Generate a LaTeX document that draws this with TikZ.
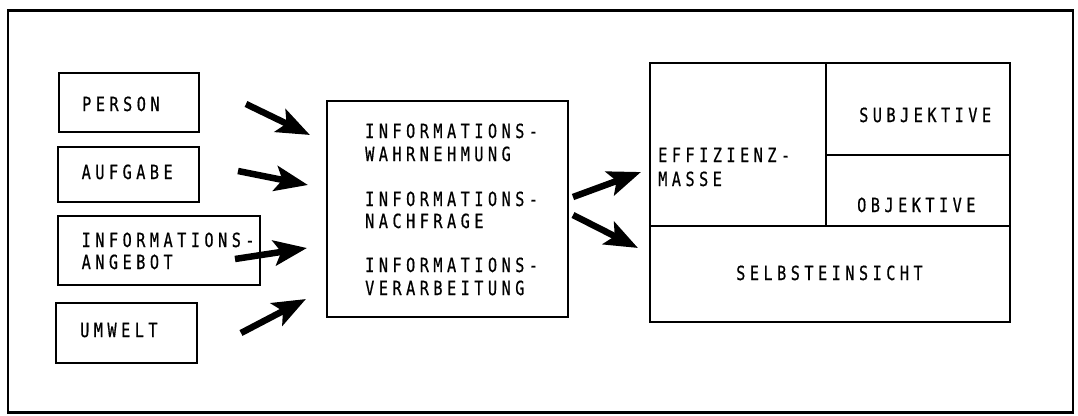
\documentclass[tikz,border=0pt]{standalone}
\usepackage{fontspec}
\newfontfamily\diafont[FakeStretch=0.78,LetterSpace=23,FakeBold=0.6]{DejaVu Sans Mono}
\usetikzlibrary{arrows.meta}
\begin{document}
\begin{tikzpicture}[x=1pt,y=-1pt,
  box/.style={draw,line width=1.9pt,inner sep=0pt,outer sep=0pt},
  lbl/.style={anchor=base west,inner sep=0pt,font=\diafont\fontsize{19.5}{22}\selectfont},
  bigarrow/.style={line width=6.5pt,-{Stealth[length=33pt,width=25pt,inset=7pt]}}]
\useasboundingbox (0,0) rectangle (1078,415);
% outer frame
\node[box,line width=2.6pt,minimum width=1065pt,minimum height=402pt] (frame) at (540.5,211.5) {};
% input boxes
\node[box,minimum width=140pt,minimum height=59pt] (person) at (129,102.5) {};
\node[box,minimum width=141pt,minimum height=55pt] (aufgabe) at (128.5,174.5) {};
\node[box,minimum width=202pt,minimum height=69pt] (angebot) at (159,250.5) {};
\node[box,minimum width=141pt,minimum height=60pt] (umwelt) at (126.5,333) {};
% middle box
\node[box,minimum width=241pt,minimum height=216pt] (mid) at (447.5,209) {};
% right block
\node[box,minimum width=176pt,minimum height=163pt] (eff) at (738,144.5) {};
\node[box,minimum width=184pt,minimum height=92pt] (subj) at (918,109) {};
\node[box,minimum width=184pt,minimum height=71pt] (obj) at (918,190.5) {};
\node[box,minimum width=360pt,minimum height=96pt] (selbst) at (830,274) {};
% texts
\node[lbl] (tperson) at (82,111) {PERSON};
\node[lbl] (taufgabe) at (81.5,179) {AUFGABE};
\node[lbl] (tang1) at (81.5,247) {INFORMATIONS-};
\node[lbl] (tang2) at (81.5,269) {ANGEBOT};
\node[lbl] (tumwelt) at (80,337) {UMWELT};
\node[lbl] (tm1) at (365,138) {INFORMATIONS-};
\node[lbl] (tm2) at (365,161) {WAHRNEHMUNG};
\node[lbl] (tm3) at (365,206) {INFORMATIONS-};
\node[lbl] (tm4) at (365,228) {NACHFRAGE};
\node[lbl] (tm5) at (365,272) {INFORMATIONS-};
\node[lbl] (tm6) at (365,295) {VERARBEITUNG};
\node[lbl] (teff1) at (658,162) {EFFIZIENZ-};
\node[lbl] (teff2) at (658,186) {MASSE};
\node[lbl] (tsubj) at (859,122) {SUBJEKTIVE};
\node[lbl] (tobj) at (857,212) {OBJEKTIVE};
\node[lbl] (tselbst) at (736,280) {SELBSTEINSICHT};
% arrow end points
\coordinate (a1s) at (246,104); \coordinate (a1e) at (310,135);
\coordinate (a2s) at (238,171); \coordinate (a2e) at (308,185);
\coordinate (a3s) at (235,259); \coordinate (a3e) at (307,248);
\coordinate (a4s) at (241,333); \coordinate (a4e) at (306,299);
\coordinate (a5s) at (573,197); \coordinate (a5e) at (641,172);
\coordinate (a6s) at (573,215); \coordinate (a6e) at (638,248);
\draw[bigarrow] (a1s) -- (a1e);
\draw[bigarrow] (a2s) -- (a2e);
\draw[bigarrow] (a3s) -- (a3e);
\draw[bigarrow] (a4s) -- (a4e);
\draw[bigarrow] (a5s) -- (a5e);
\draw[bigarrow] (a6s) -- (a6e);
\end{tikzpicture}
\end{document}
